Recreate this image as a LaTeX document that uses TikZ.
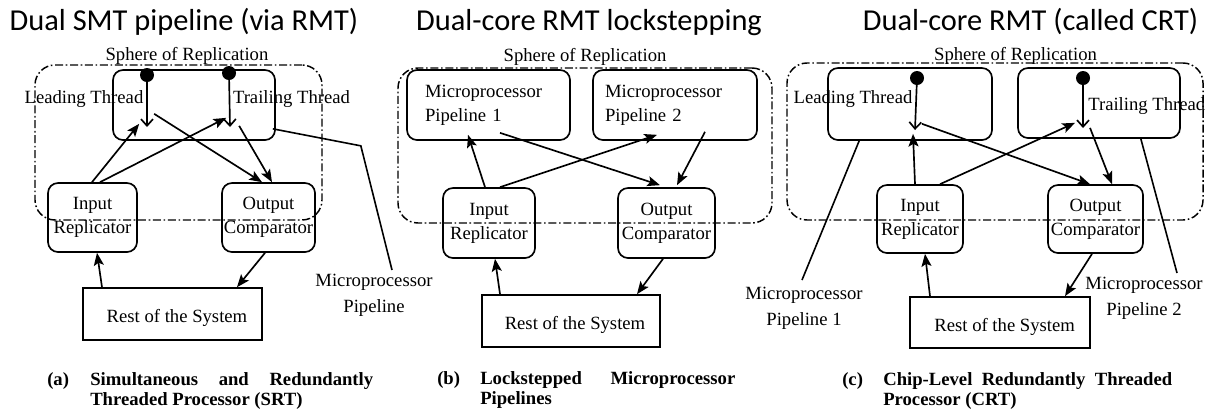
\documentclass[tikz,border=0pt]{standalone}
\usepackage{fontspec}
\setmainfont{Liberation Serif}
\newfontfamily\titlefont{Carlito}
\usetikzlibrary{arrows.meta,calc}
\tikzset{
  pxbox/.style 2 args={minimum width={#1*0.75pt}, minimum height={#2*0.75pt}},
  rbox/.style={draw, line width=1.25pt, rounded corners=7.5pt, inner sep=0pt, align=center, font=\fontsize{14}{18}\selectfont},
  sqbox/.style={draw, line width=1.25pt, inner sep=0pt, font=\fontsize{14}{18}\selectfont, text height=13pt, text depth=0pt},
  sphere/.style={draw, line width=1.1pt, rounded corners=15pt, dash pattern=on 6pt off 2pt on 1.2pt off 2pt, inner sep=0pt},
  arr/.style={line width=1.25pt, -{Stealth[length=9.5pt,width=7.5pt,inset=2pt]}},
  barbarr/.style={line width=1.25pt, -{Straight Barb[length=5pt,width=9pt]}},
  plainline/.style={line width=1.2pt},
  dotmark/.style={circle, fill=black, inner sep=0pt, minimum size=10.5pt},
  lbl/.style={font=\fontsize{14}{18}\selectfont, inner sep=0pt},
  mltxt/.style={font=\fontsize{14}{19.5}\selectfont, inner sep=0pt, align=center, anchor=north},
  ttl/.style={font=\titlefont\fontsize{22.8}{27}\selectfont, inner sep=0pt, anchor=base},
  captxt/.style={font=\bfseries\fontsize{14}{15}\selectfont, inner sep=0pt, anchor=base west},
}
\begin{document}
\begin{tikzpicture}[x=0.75pt,y=-0.75pt]
\path[use as bounding box] (0,0) rectangle (1205,412);

% ---------------- Panel (a)
\node[ttl] (titA) at (184,30) {Dual SMT pipeline (via RMT)};
\node[sphere, pxbox={287}{155}] (sphA) at (178.5,142.5) {};
\node[lbl, anchor=base] (sorA) at (187,60) {Sphere of Replication};
\node[rbox, pxbox={162}{70}] (thrA) at (194,105) {};
\node[dotmark] (dA1) at (147,75) {};
\node[dotmark] (dA2) at (229,73) {};
\node[lbl, anchor=base] (ltA) at (84,103) {Leading Thread};
\node[lbl, anchor=base] (ttA) at (291.5,103) {Trailing Thread};
\node[rbox, pxbox={89}{69}] (inA) at (92.5,217.5) {Input\\Replicator};
\node[rbox, pxbox={93}{69}] (outA) at (268.5,217.5) {Output\\Comparator};
\node[sqbox, pxbox={179}{52}] (restA) at (172.5,314) {\hspace*{6.75pt}Rest of the System};
\node[mltxt] (mlA) at (374,274) {Microprocessor\\Pipeline};

\draw[arr] ($(inA.north)+(-0.5,0)$) -- ($(thrA.south west)+(27,-17)$);
\draw[arr] ($(inA.north)+(7.5,0)$) -- ($(thrA.south west)+(114,-23)$);
\draw[arr] ($(thrA.south west)+(42,-27)$) -- ($(outA.north)+(-6.5,0)$);
\draw[arr] ($(thrA.south west)+(127,-15)$) -- ($(outA.north)+(3.5,0)$);
\draw[barbarr] (dA1.center) -- ++(0,52);
\draw[barbarr] (dA2.center) -- ++(1,54);
\draw[arr] ($(restA.north)+(-70.5,0)$) -- ($(inA.south)+(4.5,0)$);
\draw[arr] ($(outA.south)+(-3.5,0)$) -- ($(restA.north)+(64.5,0)$);
\draw[plainline] ($(thrA.south east)+(-3,-12)$) -- ++(88,17) -- ($(mlA.north)+(18,-4)$);

\node[captxt] (capAl) at (47,385) {(a)};
\node[captxt] (capA1) at (90,385) {\makebox[212.25pt][s]{Simultaneous and Redundantly}};
\node[captxt] (capA2) at (90,405) {Threaded Processor (SRT)};

% ---------------- Panel (b)
\node[ttl] (titB) at (589,30) {Dual-core RMT lockstepping};
\node[sphere, pxbox={374}{155}] (sphB) at (585,145.5) {};
\node[lbl, anchor=base] (sorB) at (585,61) {Sphere of Replication};
\node[rbox, align=left, text width=95.25pt, inner xsep=13.5pt, pxbox={163}{70}] (p1B) at (488.5,105) {Microprocessor\\Pipeline 1};
\node[rbox, align=left, text width=105pt, inner xsep=9pt, pxbox={164}{70}] (p2B) at (675,105) {Microprocessor\\Pipeline 2};
\node[rbox, pxbox={92}{70}] (inB) at (489,223) {Input\\Replicator};
\node[rbox, pxbox={97}{70}] (outB) at (666.5,223) {Output\\Comparator};
\node[sqbox, pxbox={178}{52}] (restB) at (571,321) {\hspace*{6pt}Rest of the System};

\draw[arr] ($(inB.north)+(-4,0)$) -- ($(p1B.south)+(-20.5,-6)$);
\draw[arr] ($(inB.north)+(11,0)$) -- ($(p2B.south)+(-18,-6)$);
\draw[arr] ($(p1B.south)+(11.5,-8)$) -- ($(outB.north)+(-6.5,-2)$);
\draw[arr] ($(p2B.south)+(30,-9)$) -- ($(outB.north)+(10.5,-2)$);
\draw[arr] ($(restB.north)+(-71,0)$) -- ($(inB.south)+(6,0)$);
\draw[arr] ($(outB.south)+(-3.5,0)$) -- ($(restB.north)+(66,0)$);

\node[captxt] (capBl) at (437,384) {(b)};
\node[captxt] (capB1) at (480,384) {\makebox[191.25pt][s]{Lockstepped Microprocessor}};
\node[captxt] (capB2) at (480,404) {Pipelines};

% ---------------- Panel (c)
\node[ttl] (titC) at (1030.5,30) {Dual-core RMT (called CRT)};
\node[sphere, pxbox={416}{157}] (sphC) at (995,141.5) {};
\node[lbl, anchor=base] (sorC) at (1015.5,60) {Sphere of Replication};
\node[rbox, pxbox={164}{72}] (leadC) at (910,104) {};
\node[rbox, pxbox={162}{70}] (trailC) at (1099,103) {};
\node[dotmark] (dC1) at (917,78) {};
\node[dotmark] (dC2) at (1083,78) {};
\node[lbl, anchor=base] (ltC) at (853,103) {Leading Thread};
\node[lbl, anchor=base west] (ttC) at (1088,110) {Trailing Thread};
\node[rbox, pxbox={86}{68}] (inC) at (920,219) {Input\\Replicator};
\node[rbox, pxbox={95}{68}] (outC) at (1095.5,219) {Output\\Comparator};
\node[sqbox, pxbox={180}{51}] (restC) at (1000,322.5) {\hspace*{7pt}Rest of the System};
\node[mltxt] (mlC1) at (804,287) {Microprocessor\\Pipeline 1};
\node[mltxt] (mlC2) at (1144,277) {Microprocessor\\Pipeline 2};

\draw[arr] ($(inC.north)+(-5,0)$) -- ($(leadC.south)+(3,-7)$);
\draw[arr] ($(inC.north)+(20,0)$) -- ($(trailC.south)+(-24,-16)$);
\draw[arr] ($(leadC.south)+(12,-17)$) -- ($(outC.north)+(-5.5,0)$);
\draw[arr] ($(trailC.south)+(-9,-11)$) -- ($(outC.north)+(16.5,0)$);
\draw[barbarr] (dC1.center) -- ++(-2,52);
\draw[barbarr] (dC2.center) -- ++(0,50);
\draw[arr] ($(restC.north)+(-70,0)$) -- ($(inC.south)+(5,0)$);
\draw[arr] ($(outC.south)+(-3.5,0)$) -- ($(restC.north)+(65,0)$);
\draw[plainline] ($(leadC.south west)+(32,0)$) -- ($(mlC1.north)+(-2,-7)$);
\draw[plainline] ($(trailC.south east)+(-40,0)$) -- ($(mlC2.north)+(33,-4)$);

\node[captxt] (capCl) at (842,385) {(c)};
\node[captxt] (capC1) at (883,385) {\makebox[216.75pt][s]{Chip-Level Redundantly Threaded}};
\node[captxt] (capC2) at (883,405) {Processor (CRT)};
\end{tikzpicture}
\end{document}
